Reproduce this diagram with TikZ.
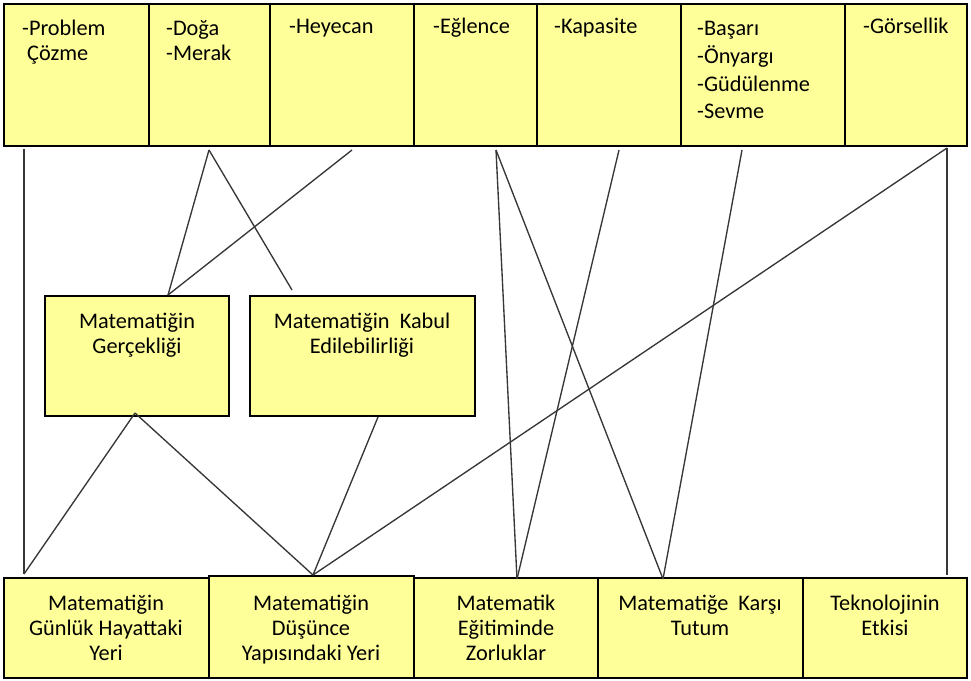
\documentclass[tikz,border=0pt]{standalone}
\usepackage{fontspec}
\setmainfont{Carlito}
\definecolor{boxfill}{RGB}{255,255,153}
\definecolor{linegray}{RGB}{55,55,55}
\begin{document}
\begin{tikzpicture}[x=1pt,y=-1pt,
  box/.style={draw=black,line width=1.5pt,fill=boxfill,inner sep=0pt,outer sep=0pt,anchor=north west},
  lbl/.style={inner sep=0pt,font=\fontsize{22.3}{25}\selectfont,text=black},
  conn/.style={draw=linegray,line width=1.35pt}]
\useasboundingbox (0,0) rectangle (971,680);
% top row
\node[box,minimum width=145pt,minimum height=142pt] (t1) at (4,4) {};
\node[box,minimum width=121pt,minimum height=142pt] (t2) at (149,4) {};
\node[box,minimum width=144pt,minimum height=142pt] (t3) at (270,4) {};
\node[box,minimum width=123pt,minimum height=142pt] (t4) at (414,4) {};
\node[box,minimum width=144pt,minimum height=142pt] (t5) at (537,4) {};
\node[box,minimum width=164pt,minimum height=142pt] (t6) at (681,4) {};
\node[box,minimum width=122pt,minimum height=142pt] (t7) at (845,4) {};
% middle
\node[box,minimum width=184pt,minimum height=120pt] (m1) at (45,296) {};
\node[box,minimum width=225pt,minimum height=120pt] (m2) at (250,296) {};
% bottom
\node[box,minimum width=205pt,minimum height=100pt] (b1) at (4,578) {};
\node[box,minimum width=205pt,minimum height=102pt] (b2) at (209,576) {};
\node[box,minimum width=184pt,minimum height=100pt] (b3) at (414,578) {};
\node[box,minimum width=205pt,minimum height=100pt] (b4) at (598,578) {};
\node[box,minimum width=164pt,minimum height=100pt] (b5) at (803,578) {};
% top texts
\node[lbl,anchor=base west] (t1a) at (22,35) {-Problem};
\node[lbl,anchor=base west] (t1b) at (27,60) {Çözme};
\node[lbl,anchor=base west] (t2a) at (166,35) {-Doğa};
\node[lbl,anchor=base west] (t2b) at (166,60) {-Merak};
\node[lbl,anchor=base west] (t3a) at (289,33) {-Heyecan};
\node[lbl,anchor=base west] (t4a) at (433,33) {-Eğlence};
\node[lbl,anchor=base west] (t5a) at (554,33) {-Kapasite};
\node[lbl,anchor=base west] (t6a) at (697,35) {-Başarı};
\node[lbl,anchor=base west] (t6b) at (697,63) {-Önyargı};
\node[lbl,anchor=base west] (t6c) at (697,91) {-Güdülenme};
\node[lbl,anchor=base west] (t6d) at (697,118) {-Sevme};
\node[lbl,anchor=base west] (t7a) at (863,33) {-Görsellik};
% middle texts
\node[lbl,anchor=base] (m1a) at (137,328) {Matematiğin};
\node[lbl,anchor=base] (m1b) at (137,353) {Gerçekliği};
\node[lbl,anchor=base] (m2a) at (362,328) {Matematiğin\ \ Kabul};
\node[lbl,anchor=base] (m2b) at (362,353) {Edilebilirliği};
% bottom texts
\node[lbl,anchor=base] (b1a) at (106,610) {Matematiğin};
\node[lbl,anchor=base] (b1b) at (106,635) {Günlük Hayattaki};
\node[lbl,anchor=base] (b1c) at (106,660) {Yeri};
\node[lbl,anchor=base] (b2a) at (311,610) {Matematiğin};
\node[lbl,anchor=base] (b2b) at (311,635) {Düşünce};
\node[lbl,anchor=base] (b2c) at (311,660) {Yapısındaki Yeri};
\node[lbl,anchor=base] (b3a) at (506,610) {Matematik};
\node[lbl,anchor=base] (b3b) at (506,635) {Eğitiminde};
\node[lbl,anchor=base] (b3c) at (506,660) {Zorluklar};
\node[lbl,anchor=base] (b4a) at (700,610) {Matematiğe\ \ Karşı};
\node[lbl,anchor=base] (b4b) at (700,635) {Tutum};
\node[lbl,anchor=base] (b5a) at (885,610) {Teknolojinin};
\node[lbl,anchor=base] (b5b) at (885,635) {Etkisi};
% connector end points
\coordinate (pA) at (24,149);
\coordinate (pB) at (24,574);
\coordinate (dg) at (209,150);
\coordinate (hy) at (352,150);
\coordinate (m1t) at (168,295);
\coordinate (m2t) at (292,290);
\coordinate (m1s) at (135,413);
\coordinate (m2s) at (378,417);
\coordinate (b2t) at (313,575);
\coordinate (gr) at (947,148);
\coordinate (b5t) at (947,575);
\coordinate (eg) at (496,150);
\coordinate (kp) at (619,150);
\coordinate (bs) at (742,150);
\coordinate (b3t) at (517,579);
\coordinate (b4t) at (663,579);
% connectors
\draw[conn] (pA) -- (pB);
\draw[conn] (dg) -- (m1t);
\draw[conn] (dg) -- (m2t);
\draw[conn] (hy) -- (m1t);
\draw[conn] (m1s) -- (pB);
\draw[conn] (m1s) -- (b2t);
\draw[conn] (m2s) -- (b2t);
\draw[conn] (gr) -- (b2t);
\draw[conn] (gr) -- (b5t);
\draw[conn] (eg) -- (b3t);
\draw[conn] (eg) -- (b4t);
\draw[conn] (kp) -- (b3t);
\draw[conn] (bs) -- (b4t);
\end{tikzpicture}
\end{document}
